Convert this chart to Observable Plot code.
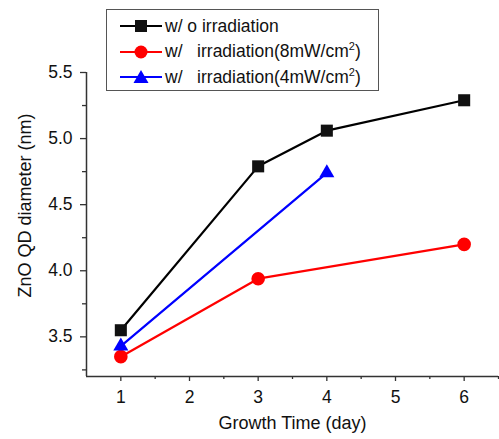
<!DOCTYPE html>
<html><head><meta charset="utf-8">
<script src="https://cdn.jsdelivr.net/npm/d3@7"></script>
<script src="https://cdn.jsdelivr.net/npm/@observablehq/plot@0.6"></script>
<style>
body{margin:0;background:#fff}
#wrap{position:relative;width:499px;height:439px;font-family:"Liberation Sans",Arial,sans-serif}
#legend{position:absolute;left:106px;top:9px;width:271px;height:80px;border:1px solid #555;background:#fff;box-sizing:content-box}
.row{position:absolute;left:13px;height:20px;display:flex;align-items:center;font-size:17.5px;white-space:pre;color:#111}
.row svg{margin-right:3px}
sup{font-size:11px;vertical-align:7px;line-height:0}
</style>
</head><body><div id="wrap"></div>
<script>
// Data
const daysNo = [1, 3, 4, 6];
const diamNo = [3.55, 4.79, 5.06, 5.29];
const days8 = [1, 3, 6];
const diam8 = [3.35, 3.94, 4.20];
const days4 = [1, 4];
const diam4 = [3.43, 4.74];
const seriesLabels = ["w/ o irradiation", "w/   irradiation(8mW/cm<sup>2</sup>)", "w/   irradiation(4mW/cm<sup>2</sup>)"];
const seriesColors = ["#000000", "#ff0000", "#0000ff"];
const seriesSymbols = ["square", "circle", "triangle"];
const xMajor = [1, 2, 3, 4, 5, 6];
const xMinor = [1.5, 2.5, 3.5, 4.5, 5.5, 6.5];
const yMajor = [3.5, 4.0, 4.5, 5.0, 5.5];
const yMinor = [3.25, 3.75, 4.25, 4.75, 5.25];

const mk = (xs, ys) => xs.map((d, i) => ({day: d, diam: ys[i]}));
const sets = [mk(daysNo, diamNo), mk(days8, diam8), mk(days4, diam4)];
const rVals = [6.8, 6.8, 5.6];

const marks = [];
sets.forEach((data, i) => {
  marks.push(Plot.line(data, {x: "day", y: "diam", stroke: seriesColors[i], strokeWidth: 2.2}));
});
sets.forEach((data, i) => {
  marks.push(Plot.dot(data, {x: "day", y: "diam", symbol: () => seriesSymbols[i], r: rVals[i], fill: seriesColors[i] === "#000000" ? "#111" : seriesColors[i], stroke: "none"}));
});

const axisColor = "#333";
const chart = Plot.plot({
  width: 499, height: 439,
  marginLeft: 86, marginRight: 1, marginTop: 72, marginBottom: 63,
  style: {fontFamily: "'Liberation Sans', Arial, sans-serif", fontSize: "17px", color: "#111", background: "#fff"},
  x: {domain: [0.5, 6.5]},
  y: {domain: [3.2, 5.5]},
  symbol: {type: "identity"},
  marks: [
    Plot.axisX({ticks: xMajor, tickSize: 5, tickPadding: 9, tickFormat: d => String(d), label: null, stroke: axisColor, strokeWidth: 1.3, fontSize: 17.5}),
    Plot.axisX({ticks: xMinor, tickSize: 3, tickFormat: () => "", label: null, stroke: axisColor, strokeWidth: 1.3}),
    Plot.axisY({ticks: yMajor, tickSize: 6, tickPadding: 8, tickFormat: d => d.toFixed(1), label: null, stroke: axisColor, strokeWidth: 1.3, fontSize: 17.5}),
    Plot.axisY({ticks: yMinor, tickSize: 4, tickFormat: () => "", label: null, stroke: axisColor, strokeWidth: 1.3}),
    Plot.ruleY([3.2], {stroke: axisColor, strokeWidth: 1.5}),
    Plot.ruleX([0.5], {stroke: axisColor, strokeWidth: 1.5}),
    Plot.text(["Growth Time (day)"], {frameAnchor: "bottom", textAnchor: "middle", lineAnchor: "middle", dy: 47, fontSize: 18, fill: "#111"}),
    Plot.text(["ZnO QD diameter (nm)"], {frameAnchor: "left", textAnchor: "middle", lineAnchor: "middle", rotate: -90, dx: -61, dy: -19, fontSize: 18, fill: "#111"}),
    ...marks
  ]
});

const wrap = document.getElementById("wrap");
wrap.appendChild(chart);

// Legend
const legend = document.createElement("div");
legend.id = "legend";
wrap.appendChild(legend);
const rowTops = [6, 31.5, 57];
seriesLabels.forEach((lab, i) => {
  const row = document.createElement("div");
  row.className = "row";
  row.style.top = rowTops[i] + "px";
  const c = seriesColors[i];
  let sym;
  if (seriesSymbols[i] === "square") sym = `<rect x="15" y="4" width="12" height="12" fill="#111"/>`;
  else if (seriesSymbols[i] === "circle") sym = `<circle cx="21" cy="10" r="6.5" fill="${c}"/>`;
  else sym = `<path d="M21,3 L28.5,16 L13.5,16 Z" fill="${c}"/>`;
  row.innerHTML = `<svg width="42" height="20"><line x1="0" x2="42" y1="10" y2="10" stroke="${c}" stroke-width="2"/>${sym}</svg><span>${lab}</span>`;
  legend.appendChild(row);
});
</script>
</body></html>
